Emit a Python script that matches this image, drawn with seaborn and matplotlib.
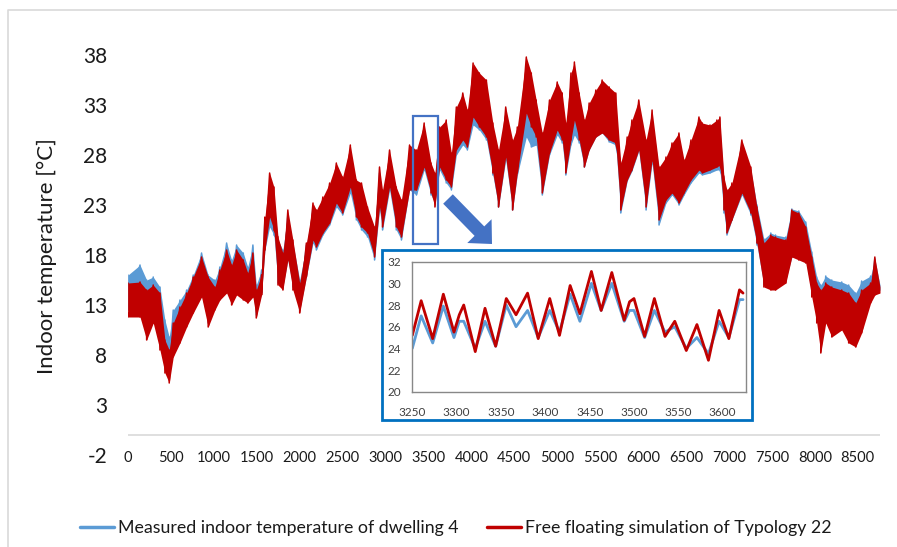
import numpy as np
import pandas as pd
import matplotlib
matplotlib.use("Agg")
import matplotlib.pyplot as plt
import seaborn as sns
from matplotlib.patches import Rectangle, FancyArrow
from matplotlib.lines import Line2D
from matplotlib.transforms import IdentityTransform

# ---------------- data ----------------
hours = [0, 140, 217, 294, 372, 430, 480, 527, 605, 683,
         760, 857, 934, 1012, 1070, 1149, 1207, 1265, 1343, 1395,
         1455, 1494, 1556, 1595, 1650, 1700, 1747, 1804, 1862, 1921,
         2000, 2078, 2155, 2194, 2270, 2349, 2427, 2500, 2590, 2660,
         2720, 2790, 2872, 2930, 2965, 3047, 3125, 3185, 3280, 3360,
         3450, 3530, 3575, 3630, 3707, 3767, 3825, 3900, 3953, 4020,
         4093, 4175, 4250, 4316, 4400, 4480, 4535, 4640, 4698, 4755,
         4826, 4910, 5000, 5058, 5100, 5160, 5200, 5256, 5316, 5372,
         5450, 5523, 5605, 5682, 5740, 5815, 5870, 5950, 6035, 6105,
         6186, 6267, 6337, 6418, 6477, 6558, 6651, 6690, 6780, 6860,
         6895, 6942, 6977, 7035, 7151, 7255, 7326, 7407, 7488, 7543,
         7663, 7733, 7814, 7895, 7965, 8023, 8070, 8128, 8198, 8314,
         8395, 8477, 8546, 8651, 8700, 8760]

sim_hi = [15.2, 15.3, 14.5, 15.0, 14.2, 9.5, 8.5, 11.2, 12.8, 14.2,
          15.8, 17.8, 15.8, 14.8, 16.5, 18.5, 17.0, 18.5, 17.5, 16.2,
          18.2, 14.5, 16.0, 21.8, 26.2, 24.8, 19.8, 18.2, 22.5, 19.5,
          15.2, 19.2, 23.2, 22.5, 23.8, 25.2, 27.2, 25.8, 29.0, 25.5,
          25.2, 22.8, 20.8, 26.8, 24.5, 28.5, 24.8, 23.5, 29.0, 28.5,
          31.2, 27.2, 26.2, 30.8, 31.5, 28.2, 32.8, 34.2, 32.5, 37.2,
          36.2, 35.5, 31.2, 28.5, 32.8, 29.5, 30.8, 37.8, 36.2, 33.5,
          30.2, 33.5, 35.3, 34.2, 31.2, 36.2, 37.3, 34.2, 31.5, 33.2,
          34.5, 35.5, 34.8, 34.2, 27.2, 29.8, 31.5, 33.5, 29.5, 32.5,
          26.8, 27.8, 29.2, 30.2, 27.5, 29.5, 31.8, 31.2, 31.0, 31.5,
          31.8, 25.8, 24.5, 25.2, 29.5, 26.8, 22.8, 19.2, 20.0, 19.8,
          19.5, 22.5, 22.2, 20.8, 17.8, 15.2, 14.5, 15.2, 14.8, 14.5,
          14.2, 13.2, 14.5, 15.2, 17.8, 14.8]

sim_lo = [11.8, 11.8, 9.5, 11.2, 8.5, 6.2, 5.2, 7.8, 9.2, 10.8,
          12.2, 13.8, 10.8, 12.5, 13.5, 14.2, 13.0, 14.0, 13.5, 13.2,
          13.8, 11.7, 14.0, 18.5, 21.8, 20.5, 15.0, 14.5, 17.5, 14.5,
          12.2, 15.8, 19.5, 18.8, 20.2, 21.2, 23.2, 22.2, 24.8, 21.8,
          20.8, 20.2, 17.8, 22.8, 20.8, 24.8, 20.8, 19.8, 24.5, 24.5,
          26.8, 24.2, 22.8, 26.8, 25.5, 24.8, 28.5, 29.5, 28.8, 31.8,
          30.8, 29.8, 26.2, 22.8, 27.8, 22.5, 26.2, 32.2, 30.8, 29.8,
          24.2, 28.2, 30.5, 29.5, 26.2, 29.5, 31.5, 29.5, 26.8, 28.5,
          29.8, 30.2, 29.5, 29.2, 22.5, 25.5, 26.5, 28.5, 22.8, 27.5,
          21.5, 23.5, 24.2, 23.2, 24.2, 25.5, 26.5, 26.2, 26.5, 26.8,
          27.0, 22.5, 20.2, 21.5, 24.2, 22.2, 19.2, 14.8, 14.5, 14.5,
          15.2, 17.8, 17.5, 17.2, 13.8, 11.2, 8.2, 11.2, 9.8, 10.5,
          9.2, 8.8, 10.2, 13.2, 14.0, 14.2]

meas_hi = [16.0, 17.0, 15.5, 15.8, 14.8, 11.5, 9.8, 12.5, 13.5, 14.5,
           16.0, 18.2, 16.0, 15.5, 16.8, 19.2, 17.5, 19.0, 18.2, 16.8,
           19.0, 15.0, 16.5, 21.5, 24.0, 23.5, 19.5, 18.5, 22.0, 19.2,
           15.5, 19.0, 22.8, 22.2, 23.5, 24.8, 26.5, 25.2, 28.0, 25.0,
           24.8, 22.5, 20.5, 26.2, 24.0, 27.8, 24.5, 23.2, 28.0, 27.5,
           30.0, 26.5, 25.0, 29.8, 30.5, 27.5, 31.8, 33.0, 31.5, 35.5,
           35.0, 34.2, 30.2, 27.8, 31.8, 28.8, 30.0, 36.0, 34.8, 32.5,
           29.5, 32.5, 34.0, 33.0, 30.5, 35.0, 36.0, 33.0, 30.8, 32.2,
           33.2, 34.2, 33.5, 33.0, 26.8, 29.2, 30.8, 32.5, 29.0, 31.8,
           26.5, 27.2, 28.8, 29.8, 27.0, 29.0, 31.0, 30.5, 30.5, 31.0,
           31.0, 25.5, 24.2, 25.0, 29.0, 26.5, 23.0, 19.6, 20.2, 20.0,
           19.8, 22.6, 22.4, 21.3, 18.3, 15.8, 15.0, 15.9, 15.5, 15.3,
           15.0, 14.2, 15.4, 15.9, 17.6, 15.0]

meas_lo = [12.5, 12.5, 10.5, 12.0, 9.5, 7.5, 6.5, 8.5, 9.8, 11.0,
           12.5, 14.0, 11.2, 12.8, 13.8, 14.5, 13.5, 14.2, 13.8, 13.5,
           14.0, 12.0, 14.2, 18.5, 20.8, 20.0, 15.2, 14.8, 17.5, 14.8,
           12.5, 15.8, 19.2, 18.5, 20.0, 21.0, 22.8, 22.0, 24.2, 21.5,
           20.5, 19.8, 17.5, 22.5, 20.5, 24.5, 20.5, 19.5, 24.5, 24.0,
           26.5, 24.0, 23.2, 26.5, 25.2, 24.5, 28.0, 29.0, 28.5, 31.0,
           30.5, 29.5, 26.0, 22.8, 27.5, 22.5, 26.0, 29.8, 28.8, 29.0,
           24.0, 28.0, 30.0, 29.2, 26.0, 29.0, 30.0, 29.2, 26.8, 28.5,
           29.8, 30.2, 29.3, 29.0, 22.2, 25.4, 26.4, 28.4, 22.5, 27.2,
           21.0, 23.2, 24.0, 23.0, 24.0, 25.2, 26.2, 26.0, 26.2, 26.5,
           26.5, 22.2, 20.0, 21.5, 24.0, 22.0, 19.0, 15.0, 14.8, 14.8,
           15.5, 17.8, 17.8, 17.5, 14.2, 11.8, 9.0, 11.8, 10.5, 11.0,
           9.8, 9.5, 10.8, 13.5, 14.2, 14.5]

inset_hours = [3250, 3260, 3273, 3285, 3297, 3303, 3308, 3321, 3332, 3344,
               3356, 3367, 3380, 3392, 3405, 3416, 3428, 3439, 3452, 3463,
               3475, 3489, 3495, 3500, 3512, 3523, 3535, 3546, 3559, 3571,
               3584, 3596, 3607, 3619, 3623]
inset_sim = [25.2, 28.4, 24.9, 29.0, 25.5, 27.1, 28.0, 23.7, 27.7, 24.2,
             28.6, 27.1, 29.1, 24.9, 28.6, 25.2, 29.8, 27.2, 31.1, 27.5,
             31.0, 26.6, 28.3, 28.6, 25.1, 28.6, 25.1, 26.5, 23.8, 26.2,
             22.9, 27.5, 24.9, 29.4, 29.1]
inset_meas = [24.0, 27.0, 24.5, 27.9, 25.0, 26.5, 26.5, 24.0, 26.5, 24.2,
              28.0, 26.0, 27.5, 25.0, 27.5, 25.5, 29.0, 26.5, 30.0, 27.5,
              30.0, 26.5, 27.5, 27.5, 25.0, 27.5, 25.5, 26.0, 24.0, 25.0,
              23.5, 26.5, 25.0, 28.5, 28.5]

main_xticks = list(range(0, 8501, 500))
main_yticks = list(range(-2, 39, 5))
inset_xticks = list(range(3250, 3601, 50))
inset_yticks = list(range(20, 33, 2))

label_meas = "Measured indoor temperature of dwelling 4"
label_sim = "Free floating simulation of Typology 22"
ylabel = "Indoor temperature [°C]"

# ---------------- styling ----------------
BLUE = "#5B9BD5"
RED = "#C00000"
FRAME_BLUE = "#0070C0"
MARK_BLUE = "#4472C4"

sns.set_theme(style="white")
plt.rcParams["font.family"] = ["Lato", "DejaVu Sans"]
plt.rcParams["axes.unicode_minus"] = False

W, H = 897, 547
fig = plt.figure(figsize=(W / 100, H / 100), dpi=100)


def fx(px):
    return px / W


def fy(py):
    return 1 - py / H


# chart area border (top and left visible)
fig.add_artist(Line2D([fx(8), fx(8), 1.0], [0.0, fy(10), fy(10)],
                      transform=fig.transFigure, color="#D9D9D9", lw=1.2))

ax = fig.add_axes([fx(128), fy(455), fx(880) - fx(128), fy(55) - fy(455)])

# each series: a daily-range band plus a saw-tooth trace between the read highs and lows
for k, (hi, lo, c) in enumerate([(meas_hi, meas_lo, BLUE), (sim_hi, sim_lo, RED)]):
    ax.fill_between(hours, lo, hi, color=c, lw=0, zorder=2 + 2 * k)
    zig = pd.DataFrame({"hour": [h for h in hours for _ in (0, 1)],
                        "temp": [v for pair in zip(hi, lo) for v in pair]})
    sns.lineplot(data=zig, x="hour", y="temp", sort=False, estimator=None,
                 color=c, lw=1.1, ax=ax, zorder=3 + 2 * k)

ax.set_xlim(0, 8760)
ax.set_ylim(-2, 38)
ax.set_xticks(main_xticks)
ax.set_yticks(main_yticks)
ax.set_xlabel("")
ax.set_ylabel("")
for s in ax.spines.values():
    s.set_visible(False)
ax.axhline(0, color="#D9D9D9", lw=1.2, zorder=1)
ax.tick_params(axis="y", length=0, pad=15, labelsize=15, labelcolor="#1a1a1a")
ax.tick_params(axis="x", length=0, pad=-3, labelsize=10.5, labelcolor="#1a1a1a")

fig.text(fx(47), fy(256), ylabel, rotation=90, ha="center", va="center",
         fontsize=16, color="#1a1a1a")

# highlight rectangle
ax.add_patch(Rectangle((3325, 19.1), 285, 12.8, fill=False, ec=MARK_BLUE, lw=1.6, zorder=8))

# arrow (pixel coordinates)
tail = (448, H - 199)
tip = (492, H - 244)
fig.add_artist(FancyArrow(tail[0], tail[1], tip[0] - tail[0], tip[1] - tail[1],
                          width=13.5, head_width=34, head_length=18,
                          length_includes_head=True, transform=IdentityTransform(),
                          color=MARK_BLUE, lw=0))

# inset outer frame
fig.add_artist(Rectangle((fx(382), fy(420)), fx(752) - fx(382), fy(250) - fy(420),
                         transform=fig.transFigure, facecolor="white",
                         edgecolor=FRAME_BLUE, lw=2.0, zorder=3))

axi = fig.add_axes([fx(412.3), fy(391.7), fx(745.7) - fx(412.3), fy(261.7) - fy(391.7)],
                   zorder=4)
ins = pd.DataFrame({"hour": inset_hours * 2,
                    "temp": inset_meas + inset_sim,
                    "series": [label_meas] * len(inset_hours) + [label_sim] * len(inset_hours)})
sns.lineplot(data=ins, x="hour", y="temp", hue="series",
             hue_order=[label_meas, label_sim], palette=[BLUE, RED],
             linewidth=2.0, legend=False, ax=axi)
for ln in axi.lines:
    ln.set_solid_joinstyle("round")
axi.set_xlim(3250, 3626)
axi.set_ylim(20, 32)
axi.set_xticks(inset_xticks)
axi.set_yticks(inset_yticks)
axi.set_xlabel("")
axi.set_ylabel("")
for s in axi.spines.values():
    s.set_visible(True)
    s.set_color("#888888")
    s.set_linewidth(1.0)
axi.tick_params(axis="both", length=0, labelsize=8.5, labelcolor="#404040")
axi.tick_params(axis="x", pad=11)
axi.tick_params(axis="y", pad=8)

# legend
handles = [Line2D([], [], color=BLUE, lw=2.5), Line2D([], [], color=RED, lw=2.5)]
fig.legend(handles, [label_meas, label_sim], loc="center",
           bbox_to_anchor=(fx(456), fy(528)), ncol=2, frameon=False,
           fontsize=12.8, handlelength=1.9, handletextpad=0.25, columnspacing=1.6,
           labelcolor="#1a1a1a")

fig.savefig("out.png", dpi=100)
